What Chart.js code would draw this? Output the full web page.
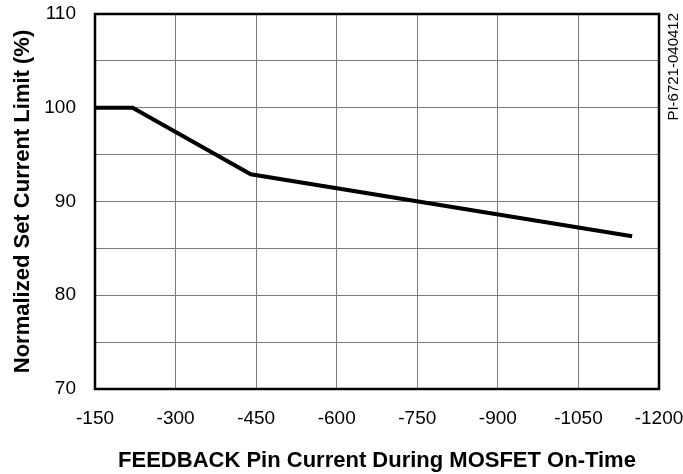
<!DOCTYPE html>
<html>
<head>
<meta charset="utf-8">
<script src="https://cdn.jsdelivr.net/npm/chart.js@4"></script>
<style>
  html, body { margin: 0; padding: 0; background: #fff; }
  #wrap { width: 683px; height: 474px; }
</style>
</head>
<body>
<div id="wrap"><canvas id="chart" width="683" height="474"></canvas></div>
<script>
// FEEDBACK pin current (uA) vs normalized current limit (%)
const feedbackCurrent = [-150, -220, -440, -1150];
const currentLimit = [100, 100, 92.9, 86.3];
const xTicks = [-150, -300, -450, -600, -750, -900, -1050, -1200];
const yTicks = [70, 80, 90, 100, 110];
const partNumber = 'PI-6721-040412';

const FONT = '"Liberation Sans", Arial, Helvetica, sans-serif';

// box around the plot + the rotated part number on the right
const framePlugin = {
    id: 'frame',
    afterDraw(chart) {
        const { ctx, chartArea: a } = chart;
        ctx.save();
        ctx.strokeStyle = '#000';
        ctx.lineWidth = 2.5;
        ctx.strokeRect(a.left, a.top, a.right - a.left, a.bottom - a.top);

        ctx.translate(674, 13);
        ctx.rotate(-Math.PI / 2);
        ctx.fillStyle = '#000';
        ctx.font = '15px ' + FONT;
        ctx.textAlign = 'right';
        ctx.textBaseline = 'middle';
        ctx.fillText(partNumber, 0, 0);
        ctx.restore();
    }
};

const ctx = document.getElementById('chart');
new Chart(ctx, {
    type: 'line',
    data: {
        datasets: [{
            data: feedbackCurrent.map((x, i) => ({ x: x, y: currentLimit[i] })),
            borderColor: '#000',
            borderWidth: 4,
            pointRadius: 0,
            fill: false,
            tension: 0
        }]
    },
    options: {
        responsive: false,
        animation: false,
        layout: { padding: { left: 0, right: 24, top: 14, bottom: 0 } },
        plugins: {
            legend: { display: false },
            tooltip: { enabled: false }
        },
        scales: {
            x: {
                type: 'linear',
                reverse: true,
                min: -1200,
                max: -150,
                afterFit: (s) => { s.height = 85; s.paddingLeft = 0; s.paddingRight = 0; },
                afterBuildTicks: (s) => { s.ticks = xTicks.map(v => ({ value: v })); },
                grid: { color: '#7a7a7a', lineWidth: 1, drawTicks: false },
                border: { display: false },
                ticks: {
                    autoSkip: false,
                    maxRotation: 0,
                    padding: 18,
                    color: '#000',
                    font: { family: FONT, size: 19 },
                    callback: (v) => String(v)
                },
                title: {
                    display: true,
                    text: 'FEEDBACK Pin Current During MOSFET On-Time',
                    color: '#000',
                    font: { family: FONT, size: 22, weight: 'bold' },
                    padding: { top: 0, bottom: 0 }
                }
            },
            y: {
                min: 70,
                max: 110,
                afterFit: (s) => { s.width = 95; s.paddingTop = 0; s.paddingBottom = 0; },
                ticks: {
                    stepSize: 5,
                    padding: 19,
                    color: '#000',
                    font: { family: FONT, size: 19 },
                    callback: (v) => (yTicks.includes(v) ? String(v) : '')
                },
                grid: { color: '#7a7a7a', lineWidth: 1, drawTicks: false },
                border: { display: false },
                title: {
                    display: true,
                    text: 'Normalized Set Current Limit (%)',
                    color: '#000',
                    font: { family: FONT, size: 22, weight: 'bold' },
                    padding: { top: 10, bottom: 0 }
                }
            }
        }
    },
    plugins: [framePlugin]
});
</script>
</body>
</html>
